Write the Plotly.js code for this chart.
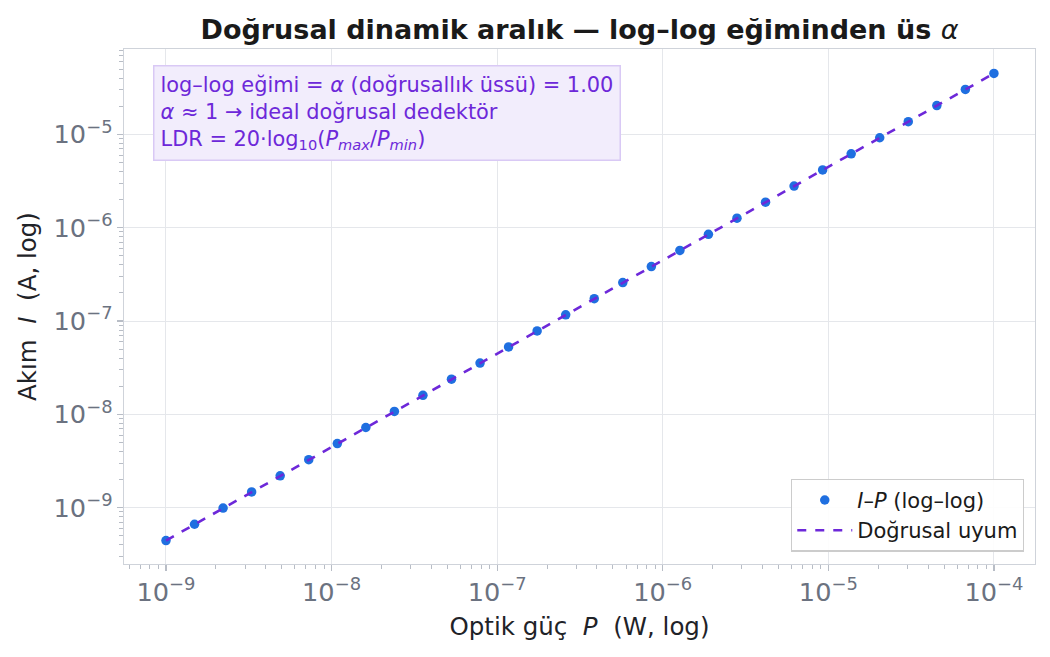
<!DOCTYPE html>
<html>
<head>
<meta charset="utf-8">
<script src="https://cdn.plot.ly/plotly-3.0.1.min.js"></script>
<style>
html,body{margin:0;padding:0;background:#fff;}
#chart{width:1050px;height:657px;}
</style>
</head>
<body>
<div id="chart"></div>
<script>
// Optical power P (W)
const powerW = [1.000e-9, 1.487e-9, 2.212e-9, 3.290e-9, 4.894e-9, 7.279e-9,
  1.083e-8, 1.610e-8, 2.395e-8, 3.562e-8, 5.298e-8, 7.880e-8,
  1.172e-7, 1.743e-7, 2.593e-7, 3.857e-7, 5.736e-7, 8.532e-7,
  1.269e-6, 1.887e-6, 2.807e-6, 4.175e-6, 6.210e-6, 9.237e-6,
  1.374e-5, 2.043e-5, 3.039e-5, 4.520e-5, 6.723e-5, 1.000e-4];
// Photocurrent I (A)
const currentA = [4.45e-10, 6.65e-10, 9.90e-10, 1.475e-9, 2.195e-9, 3.27e-9,
  4.86e-9, 7.23e-9, 1.076e-8, 1.600e-8, 2.380e-8, 3.54e-8,
  5.27e-8, 7.83e-8, 1.165e-7, 1.733e-7, 2.578e-7, 3.835e-7,
  5.705e-7, 8.485e-7, 1.262e-6, 1.877e-6, 2.792e-6, 4.153e-6,
  6.178e-6, 9.188e-6, 1.367e-5, 2.033e-5, 3.023e-5, 4.496e-5];
// Linear fit line
const fitPower = [1.0e-9, 1.0e-4];
const fitCurrent = [4.45e-10, 4.49e-5];

const NB = "\u00a0";
const titleText = "<b>Doğrusal dinamik aralık — log–log eğiminden üs </b><i>α</i>";
const xTitle = "Optik güç" + NB + NB + "<i>P</i>" + NB + NB + "(W, log)";
const yTitle = "Akım" + NB + NB + "<i>I</i>" + NB + NB + "(A, log)";
const legendPoints = "<i>I</i>–<i>P</i> (log–log)";
const legendFit = "Doğrusal uyum";
const noteText = "log–log eğimi = <i>α</i> (doğrusallık üssü) = 1.00<br><i>α</i> ≈ 1 → ideal doğrusal dedektör<br>LDR = 20·log<sub>10</sub>(<i>P<sub>max</sub></i>/<i>P<sub>min</sub></i>)";

const font = "DejaVu Sans, sans-serif";
const gridC = "#e5e7eb";
const spineC = "#cfd3da";
const tickC = "#6b7280";

const traces = [
  {
    x: powerW, y: currentA, type: "scatter", mode: "markers",
    name: legendPoints,
    marker: {color: "#1f6fe0", size: 9.5}
  },
  {
    x: fitPower, y: fitCurrent, type: "scatter", mode: "lines",
    name: legendFit,
    line: {color: "#6d28d9", width: 2.6, dash: "dash"}
  }
];

const axisCommon = {
  type: "log",
  dtick: 1,
  exponentformat: "power",
  showexponent: "all",
  showgrid: true, gridcolor: gridC, gridwidth: 1,
  showline: true, linecolor: spineC, linewidth: 1.3, mirror: true,
  ticks: "outside", ticklen: 6, tickwidth: 1.2, tickcolor: "#b8bdc6",
  tickfont: {family: font, size: 20.5, color: tickC},
  zeroline: false,
  minor: {ticks: "outside", ticklen: 3.5, tickwidth: 1, tickcolor: "#b8bdc6", showgrid: false}
};

const layout = {
  width: 1050, height: 657,
  paper_bgcolor: "#ffffff", plot_bgcolor: "#ffffff",
  margin: {l: 124, r: 15, t: 49, b: 93},
  font: {family: font, color: "#1f2328"},
  title: {
    text: titleText, x: 0.5, xref: "paper", y: 0.955, yref: "container",
    xanchor: "center", yanchor: "middle",
    font: {family: font, size: 27, color: "#1a1a1a"}
  },
  xaxis: Object.assign({}, axisCommon, {
    range: [-9.2536, -3.752],
    title: {text: xTitle, standoff: 11, font: {family: font, size: 24.5, color: "#1f2328"}}
  }),
  yaxis: Object.assign({}, axisCommon, {
    range: [-9.603, -4.086],
    title: {text: yTitle, standoff: 10, font: {family: font, size: 24.5, color: "#1f2328"}}
  }),
  showlegend: true,
  legend: {
    x: 0.988, y: 0.024, xanchor: "right", yanchor: "bottom",
    bgcolor: "rgba(255,255,255,0.9)", bordercolor: "#cccccc", borderwidth: 1.2,
    font: {family: font, size: 21, color: "#1a1a1a"},
    itemwidth: 55, tracegroupgap: 4
  },
  annotations: [{
    text: noteText, xref: "paper", yref: "paper",
    x: 0.032, y: 0.968, xanchor: "left", yanchor: "top",
    align: "left", showarrow: false,
    font: {family: font, size: 20.9, color: "#6d28d9"},
    bgcolor: "#f2edfc", bordercolor: "#d9c9f5", borderwidth: 1.5, borderpad: 6
  }]
};

Plotly.newPlot("chart", traces, layout, {displayModeBar: false, staticPlot: true});
</script>
</body>
</html>
